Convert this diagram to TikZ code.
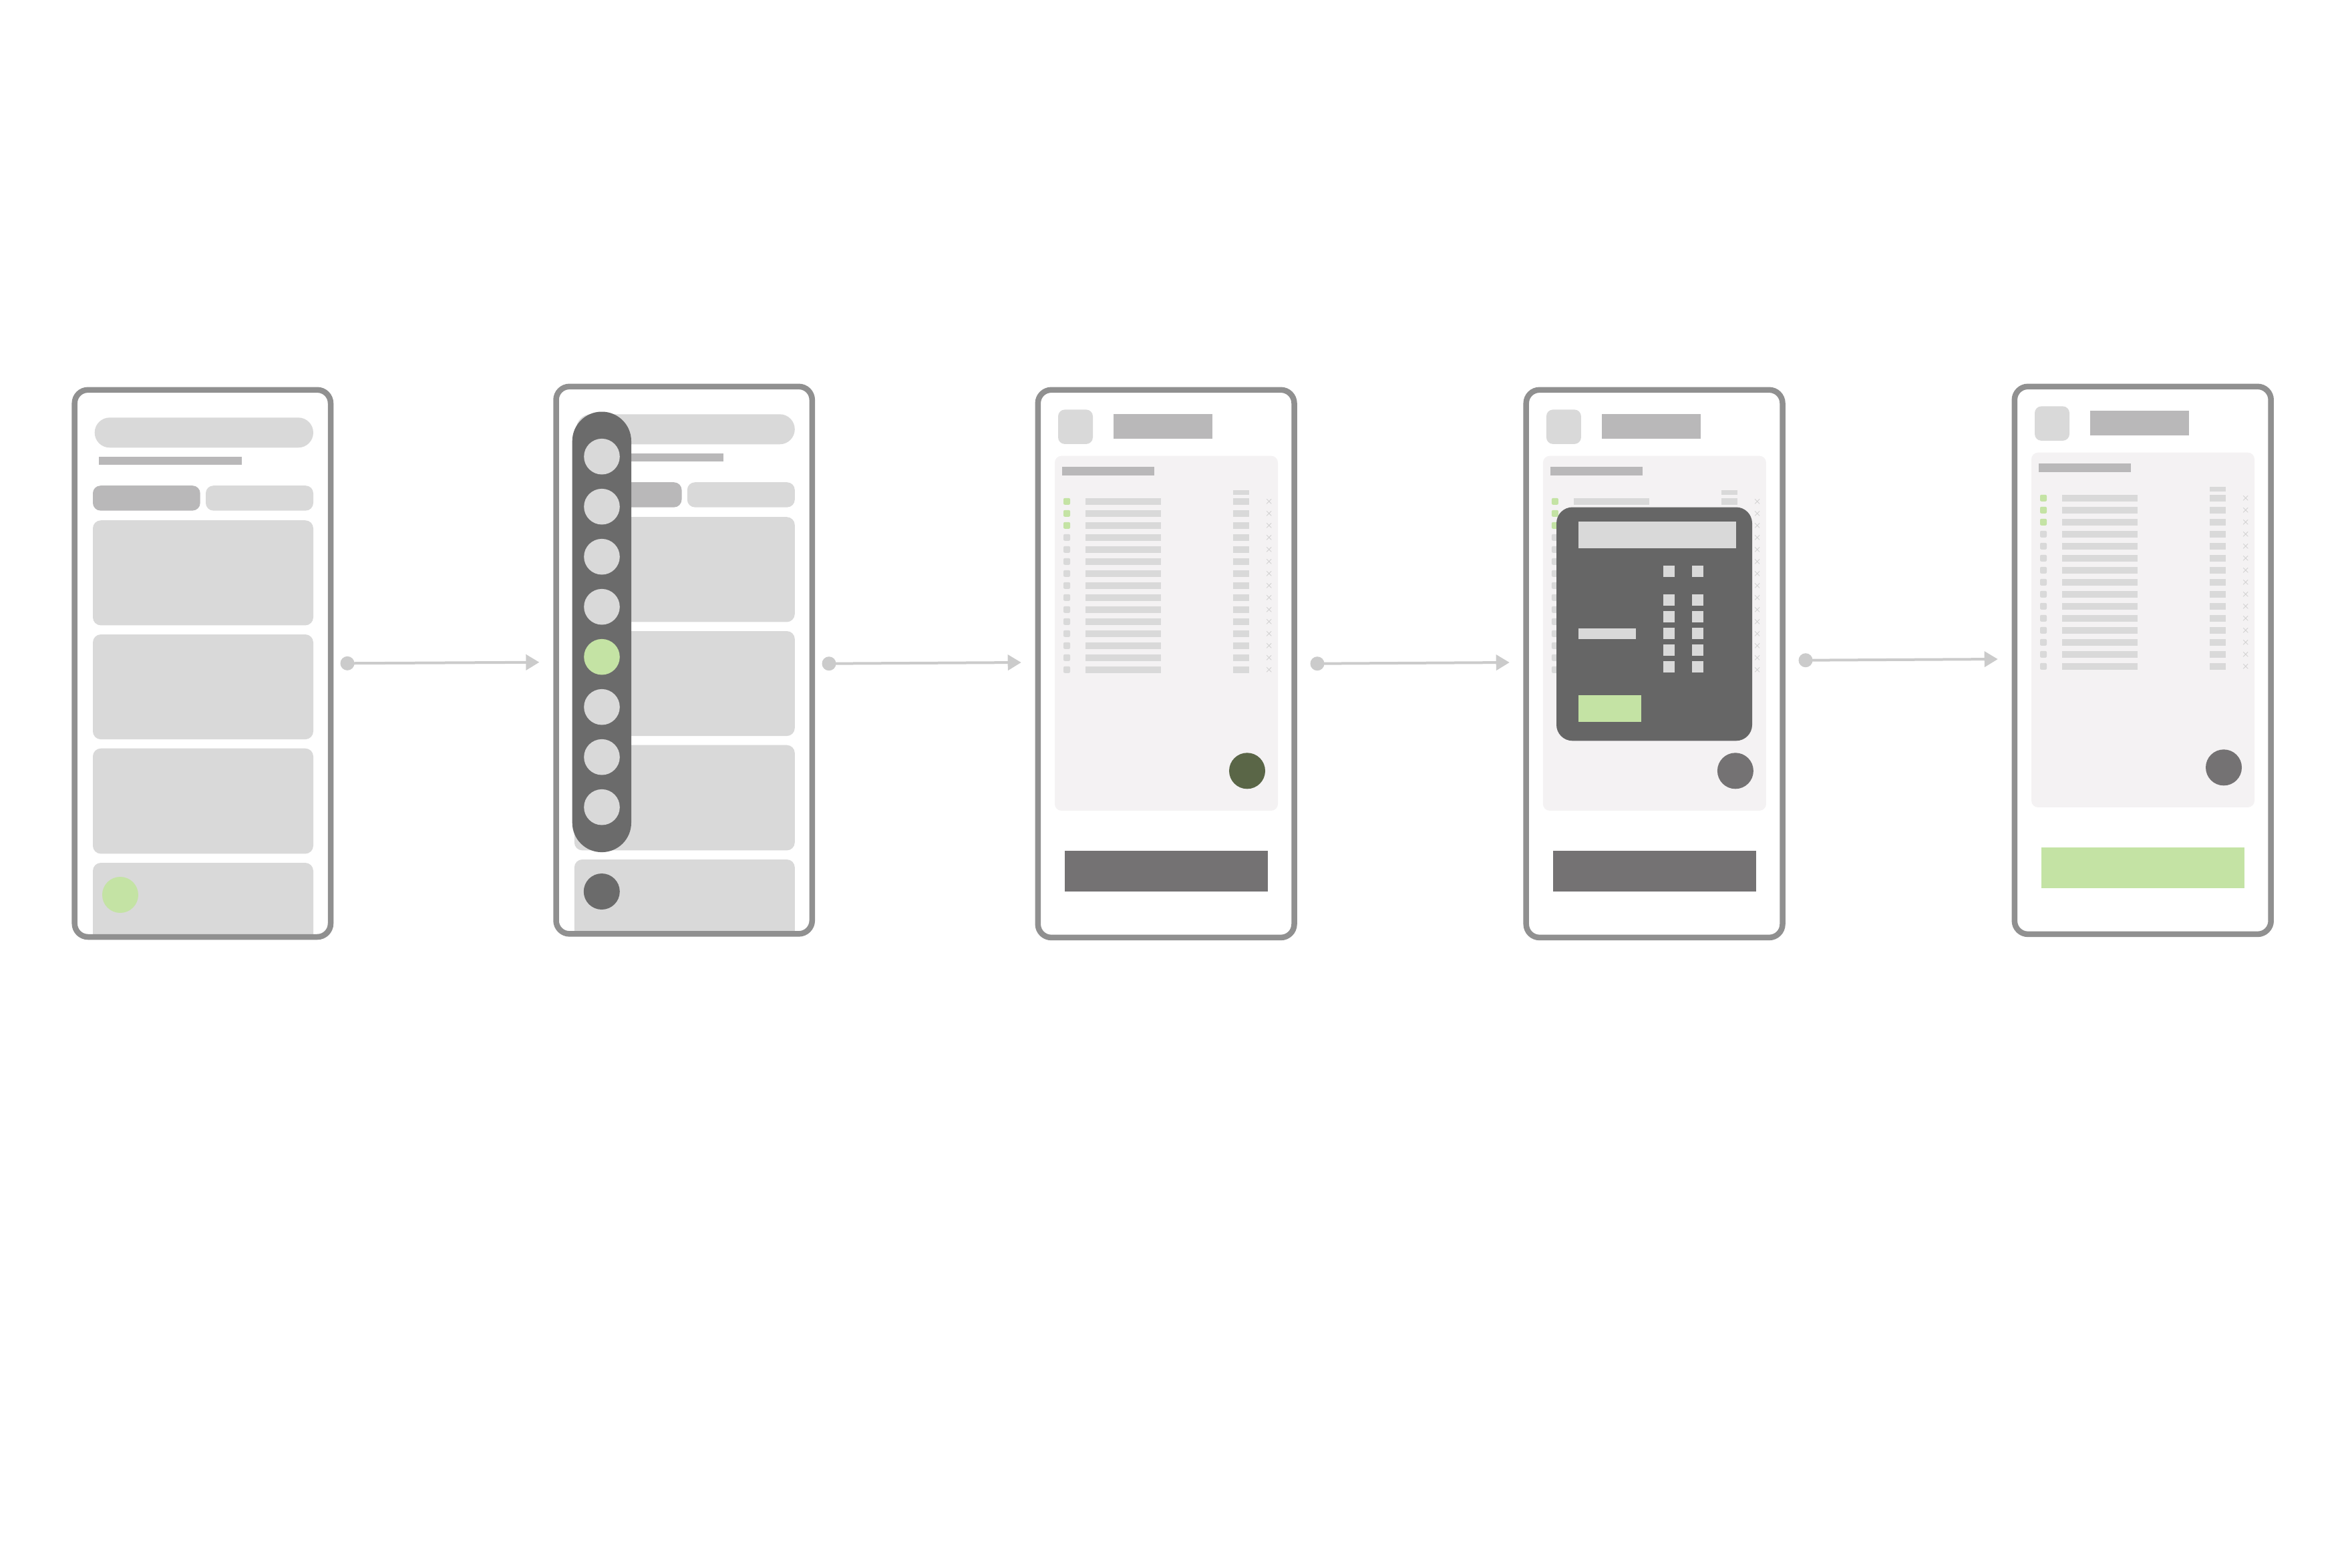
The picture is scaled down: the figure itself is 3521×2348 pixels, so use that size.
\documentclass[tikz,border=0pt]{standalone}
\usetikzlibrary{arrows.meta}
\definecolor{frame}{HTML}{909090}
\definecolor{lightbox}{HTML}{D9D9D9}
\definecolor{midbox}{HTML}{B9B8B9}
\definecolor{panelbg}{HTML}{F4F2F3}
\definecolor{sidebarc}{HTML}{6B6B6B}
\definecolor{modalc}{HTML}{666666}
\definecolor{buttonc}{HTML}{747273}
\definecolor{fabgreen}{HTML}{5A6647}
\definecolor{accent}{HTML}{C4E3A4}
\definecolor{arrowc}{HTML}{CBCBCB}
\definecolor{xmarkc}{HTML}{D2D2D2}
\tikzset{
  phoneframe/.style={draw=frame,line width=8.5pt,rounded corners=20pt},
  flowarrow/.style={draw=arrowc,line width=4pt,-{Triangle[length=20pt,width=23pt]}},
  flowdot/.style={fill=arrowc},
}
% list phone: dx, dy, fab colour, button colour
\newcommand\ListPhone[4]{%
\begin{scope}[shift={(#1,#2)}]
  \fill[lightbox,rounded corners=10pt] (1584,613.4) rectangle (1636,664.9);
  \fill[midbox] (1667,619.9) rectangle (1815,657.3);
  \fill[panelbg,rounded corners=10pt] (1579,682.7) rectangle (1913,1213.9);
  \fill[midbox] (1590,699) rectangle (1728,712);
  \fill[lightbox] (1846,734) rectangle (1870,741);
  \foreach \i in {0,...,14}{
    \pgfmathsetmacro\yc{750.8+18*\i}
    \ifnum\i<3 \def\bc{accent}\else\def\bc{lightbox}\fi
    \fill[\bc,rounded corners=2pt] (1592,\yc-5) rectangle (1602,\yc+5);
    \fill[lightbox] (1625,\yc-5) rectangle (1738,\yc+5);
    \fill[lightbox] (1846,\yc-5) rectangle (1870,\yc+5);
    \draw[xmarkc,line width=0.9pt] (1896.2,\yc-3.5) -- (1903.2,\yc+3.5) (1896.2,\yc+3.5) -- (1903.2,\yc-3.5);
  }
  \coordinate (fabpos) at (1867,1154.3);
  \fill[#3] (fabpos) circle (27);
  \fill[#4] (1594,1274.1) rectangle (1898,1334.8);
\end{scope}}
\begin{document}
\begin{tikzpicture}[x=1pt,y=-1pt]
\useasboundingbox[fill=white] (0,0) rectangle (3521,2348);

% ---------- phone 1 ----------
\begin{scope}
  \clip (0,0) rectangle (3521,1399.3);
  \fill[lightbox,rounded corners=22.5pt] (141.7,625.3) rectangle (469,670.3);
  \fill[midbox] (148,683.8) rectangle (362,696.3);
  \fill[midbox,rounded corners=11.5pt] (139,727.2) rectangle (299.7,764.6);
  \fill[lightbox,rounded corners=11.5pt] (308,727.2) rectangle (469,764.6);
  \fill[lightbox,rounded corners=12pt] (139,779.2) rectangle (469,936.4);
  \fill[lightbox,rounded corners=12pt] (139,950) rectangle (469,1107.1);
  \fill[lightbox,rounded corners=12pt] (139,1120.7) rectangle (469,1278.4);
  \fill[lightbox,rounded corners=12pt] (139,1292) rectangle (469,1430);
  \fill[accent] (180,1340) circle (27);
\end{scope}
\draw[phoneframe] (111.7,583.8) rectangle (495,1403);

% ---------- phone 2 ----------
\begin{scope}[shift={(720.8,-5)}]
  \clip (0,0) rectangle (3521,1399.3);
  \fill[lightbox,rounded corners=22.5pt] (141.7,625.3) rectangle (469,670.3);
  \fill[midbox] (148,683.8) rectangle (362,696.3);
  \fill[midbox,rounded corners=11.5pt] (139,727.2) rectangle (299.7,764.6);
  \fill[lightbox,rounded corners=11.5pt] (308,727.2) rectangle (469,764.6);
  \fill[lightbox,rounded corners=12pt] (139,779.2) rectangle (469,936.4);
  \fill[lightbox,rounded corners=12pt] (139,950) rectangle (469,1107.1);
  \fill[lightbox,rounded corners=12pt] (139,1120.7) rectangle (469,1278.4);
  \fill[lightbox,rounded corners=12pt] (139,1292) rectangle (469,1430);
  \fill[sidebarc] (180,1340) circle (27);
\end{scope}
\fill[sidebarc,rounded corners=44pt] (856.7,616.5) rectangle (945,1276.1);
\foreach \i in {0,...,7}{
  \ifnum\i=4 \def\cc{accent}\else\def\cc{lightbox}\fi
  \fill[\cc] (901,683.7+75*\i) circle (26.8);
}
\draw[phoneframe] (832.5,578.8) rectangle (1215.8,1398.4);

% ---------- phone 3 ----------
\ListPhone{0}{0}{fabgreen}{buttonc}
\draw[phoneframe] (1553.8,583.8) rectangle (1937.5,1403.9);

% ---------- phone 4 ----------
\ListPhone{730.9}{0}{buttonc}{buttonc}
\fill[modalc,rounded corners=24pt] (2330,759.5) rectangle (2623,1109.3);
\fill[lightbox] (2363,781) rectangle (2599,821);
\foreach \ya/\yb in {847/864,889.8/907.1,914.7/932.1,940.2/957,965.1/981.9,990/1006.9}{
  \fill[lightbox] (2490,\ya) rectangle (2507,\yb);
  \fill[lightbox] (2533,\ya) rectangle (2550,\yb);
}
\fill[lightbox] (2363,940.7) rectangle (2449,957);
\fill[accent] (2363,1041) rectangle (2457,1081);
\draw[phoneframe] (2284.7,583.8) rectangle (2668.5,1403.9);

% ---------- phone 5 ----------
\ListPhone{1462}{-5}{buttonc}{accent}
\draw[phoneframe] (3015.8,578.8) rectangle (3399.7,1398.9);

% ---------- arrows ----------
\coordinate (a1s) at (520,993.3);   \coordinate (a1e) at (807.3,991.7);
\coordinate (a2s) at (1241,993.7);  \coordinate (a2e) at (1528.7,992);
\coordinate (a3s) at (1972,993.7);  \coordinate (a3e) at (2259.7,992);
\coordinate (a4s) at (2703,988.7);  \coordinate (a4e) at (2990.7,987);
\foreach \k in {1,2,3,4}{
  \fill[flowdot] (a\k s) circle (10.5);
  \draw[flowarrow] (a\k s) -- (a\k e);
}
\end{tikzpicture}
\end{document}
